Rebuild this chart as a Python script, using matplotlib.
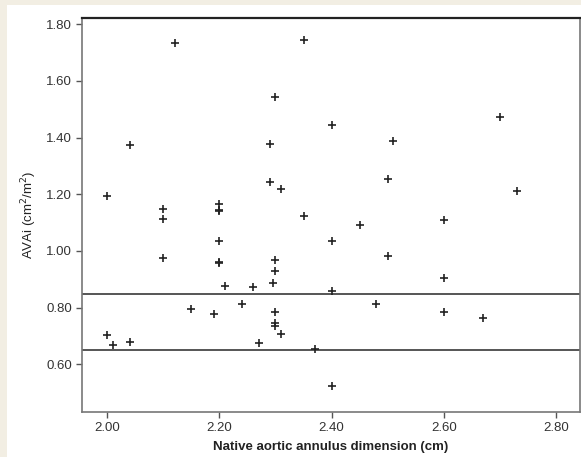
import matplotlib
matplotlib.use("Agg")
import matplotlib.pyplot as plt
from matplotlib.patches import Rectangle
from matplotlib.ticker import FormatStrFormatter

annulus = [2.00, 2.00, 2.01, 2.04, 2.04, 2.10, 2.10, 2.10, 2.12, 2.15,
           2.19, 2.20, 2.20, 2.20, 2.20, 2.20, 2.20, 2.21, 2.24, 2.26,
           2.27, 2.29, 2.29, 2.30, 2.30, 2.30, 2.296, 2.30, 2.30, 2.30,
           2.31, 2.31, 2.35, 2.35, 2.37, 2.40, 2.40, 2.40, 2.40, 2.45,
           2.48, 2.50, 2.50, 2.51, 2.60, 2.60, 2.60, 2.67, 2.70, 2.73]
avai = [1.195, 0.702, 0.670, 1.374, 0.680, 1.148, 1.112, 0.977, 1.735, 0.797,
        0.776, 1.167, 1.146, 1.140, 1.037, 0.960, 0.956, 0.878, 0.814, 0.872,
        0.677, 1.377, 1.243, 1.544, 0.969, 0.930, 0.888, 0.785, 0.745, 0.736,
        1.219, 0.707, 1.744, 1.125, 0.655, 1.445, 1.037, 0.858, 0.525, 1.090,
        0.813, 1.254, 0.982, 1.387, 1.110, 0.903, 0.786, 0.762, 1.473, 1.210]
ref_lines = [0.85, 0.65]
xticks = [2.00, 2.20, 2.40, 2.60, 2.80]
yticks = [0.60, 0.80, 1.00, 1.20, 1.40, 1.60, 1.80]

plt.rcParams['font.family'] = ['Liberation Sans', 'DejaVu Sans']

fig = plt.figure(figsize=(5.81, 4.57), dpi=100, facecolor='#f2eee3')
fig.patches.append(Rectangle((7/581, 0), 1, 1 - 5/457, transform=fig.transFigure,
                             facecolor='white', edgecolor='none', zorder=-10))
ax = fig.add_axes([82/581, 1 - 412/457, (580 - 82)/581, (412 - 18)/457])
ax.set_facecolor('white')

for v in ref_lines:
    ax.axhline(v, color='#555555', lw=1.4, zorder=1)

ax.scatter(annulus, avai, marker='+', s=30, color='#222222', linewidths=1.2, zorder=3)

ax.set_xlim(1.955, 2.843)
ax.set_ylim(0.432, 1.822)
ax.set_xticks(xticks)
ax.set_yticks(yticks)
ax.xaxis.set_major_formatter(FormatStrFormatter('%.2f'))
ax.yaxis.set_major_formatter(FormatStrFormatter('%.2f'))
ax.tick_params(axis='both', direction='out', length=4, width=1, color='#555555',
               labelsize=9.5, labelcolor='#333333', pad=3)

for side in ['left', 'bottom', 'right']:
    ax.spines[side].set_color('#777777')
    ax.spines[side].set_linewidth(1.2)
ax.spines['top'].set_color('#222222')
ax.spines['top'].set_linewidth(1.6)

ax.set_xlabel('Native aortic annulus dimension (cm)', fontsize=9.5, fontweight='bold',
              color='#222222', labelpad=5)
ax.set_ylabel('AVAi (cm$^2$/m$^2$)', fontsize=9.5, color='#222222', labelpad=5)

fig.savefig('out.png', dpi=100, facecolor=fig.get_facecolor())
